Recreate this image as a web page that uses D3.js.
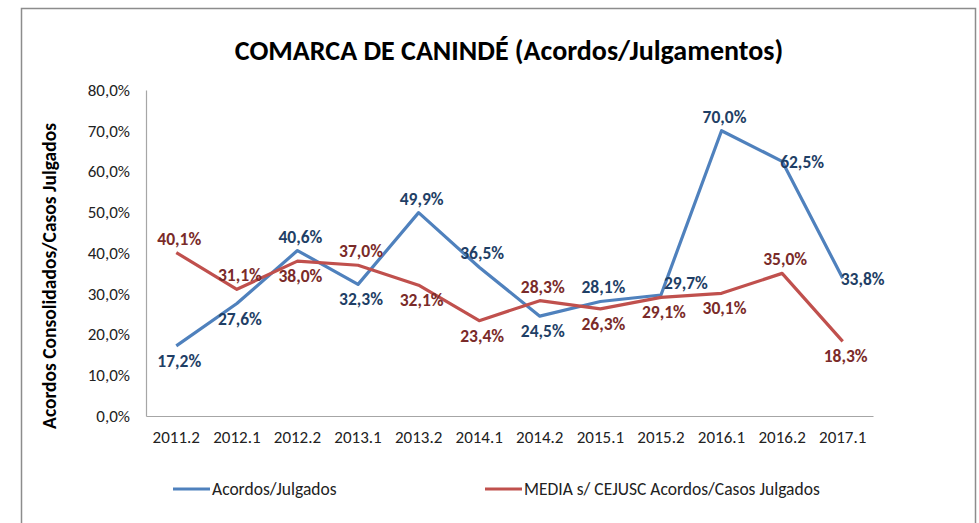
<!DOCTYPE html>
<html>
<head>
<meta charset="utf-8">
<script src="https://cdn.jsdelivr.net/npm/d3@7"></script>
<style>
  body { margin: 0; background: #fff; }
  svg { display: block; }
</style>
</head>
<body>
<svg width="979" height="523"></svg>
<script>
const periods = ['2011.2', '2012.1', '2012.2', '2013.1', '2013.2', '2014.1', '2014.2', '2015.1', '2015.2', '2016.1', '2016.2', '2017.1'];
const acordos = [17.2, 27.6, 40.6, 32.3, 49.9, 36.5, 24.5, 28.1, 29.7, 70.0, 62.5, 33.8];
const media = [40.1, 31.1, 38.0, 37.0, 32.1, 23.4, 28.3, 26.3, 29.1, 30.1, 35.0, 18.3];
const yTicks = [0, 10, 20, 30, 40, 50, 60, 70, 80];
const seriesNames = ['Acordos/Julgados', 'MEDIA s/ CEJUSC Acordos/Casos Julgados'];

// where each value label sits relative to its point
const acordosPlace = ['b', 'b', 't', 'b', 't', 't', 'b', 't', 'tr', 't', 'r', 'r'];
const mediaPlace = ['t', 't', 'b', 't', 'b', 'b', 't', 'b', 'b', 'b', 't', 'b'];

const svg = d3.select('svg');
const font = "Carlito, 'Liberation Sans Narrow', 'Arial Narrow', sans-serif";
const fmt = v => v.toFixed(1).replace('.', ',') + '%';

const margin = { top: 90, left: 146, right: 106, bottom: 107 };
const innerWidth = 979 - margin.left - margin.right;
const innerHeight = 523 - margin.top - margin.bottom;

// chart frame (bottom edge lies below the picture)
svg.append('path')
  .attr('d', 'M21.5,530V8.5H975.5V530')
  .attr('fill', 'none')
  .attr('stroke', '#8c8c8c')
  .attr('stroke-width', 1.5);

svg.append('text')
  .attr('x', 509).attr('y', 60)
  .attr('text-anchor', 'middle')
  .attr('font-family', font)
  .attr('font-weight', 'bold')
  .attr('font-size', 28)
  .attr('fill', '#000')
  .text('COMARCA DE CANINDÉ (Acordos/Julgamentos)');

const g = svg.append('g')
  .attr('transform', `translate(${margin.left},${margin.top})`);

const xScale = d3.scaleBand()
  .domain(periods)
  .range([0, innerWidth]);

const yScale = d3.scaleLinear()
  .domain([0, 80])
  .range([innerHeight, 0]);

const xPos = d => xScale(d) + xScale.bandwidth() / 2;

const yAxis = d3.axisLeft(yScale)
  .tickValues(yTicks)
  .tickSize(0)
  .tickPadding(16)
  .tickFormat(fmt);

const yAxisG = g.append('g').call(yAxis)
  .attr('font-family', font).attr('font-size', 17);
yAxisG.select('.domain').attr('stroke', '#a6a6a6').attr('stroke-width', 1.2);
yAxisG.selectAll('text').attr('fill', '#222');

const xAxis = d3.axisBottom(xScale)
  .tickSize(0)
  .tickPadding(15);

const xAxisG = g.append('g')
  .attr('transform', `translate(0,${innerHeight})`)
  .call(xAxis)
  .attr('font-family', font).attr('font-size', 17);
xAxisG.select('.domain').attr('stroke', '#a6a6a6').attr('stroke-width', 1.2);
xAxisG.selectAll('text').attr('fill', '#222');

svg.append('text')
  .attr('transform', `translate(56,${276}) rotate(-90)`)
  .attr('text-anchor', 'middle')
  .attr('font-family', font)
  .attr('font-weight', 'bold')
  .attr('font-size', 19.5)
  .attr('fill', '#000')
  .text('Acordos Consolidados/Casos  Julgados');

const series = [
  { name: seriesNames[0], values: acordos, place: acordosPlace, color: '#4f81bd', labelColor: '#1f3f66' },
  { name: seriesNames[1], values: media, place: mediaPlace, color: '#c0504d', labelColor: '#7a2b29' }
];

const line = d3.line()
  .x((d, i) => xPos(periods[i]))
  .y(d => yScale(d));

series.forEach(s => {
  g.append('path')
    .datum(s.values)
    .attr('fill', 'none')
    .attr('stroke', s.color)
    .attr('stroke-width', 3.2)
    .attr('stroke-linejoin', 'round')
    .attr('d', line);
});

series.forEach(s => {
  g.selectAll(null)
    .data(s.values)
    .join('text')
    .attr('font-family', font)
    .attr('font-weight', 'bold')
    .attr('font-size', 17.5)
    .attr('fill', s.labelColor)
    .attr('text-anchor', (d, i) => s.place[i].includes('r') ? 'start' : 'middle')
    .attr('x', (d, i) => {
      const x = xPos(periods[i]);
      if (s.place[i] === 'tr') return x + 3;
      if (s.place[i] === 'r') return x - 2;
      return x + 3;
    })
    .attr('y', (d, i) => {
      const y = yScale(d);
      const p = s.place[i];
      if (p === 't') return y - 8;
      if (p === 'b') return y + 21;
      if (p === 'tr') return y - 6;
      return y + 7;
    })
    .text(fmt);
});

// legend
const legend = svg.append('g');
const legendX = [173, 485];
series.forEach((s, i) => {
  legend.append('line')
    .attr('x1', legendX[i]).attr('x2', legendX[i] + 37)
    .attr('y1', 489).attr('y2', 489)
    .attr('stroke', s.color)
    .attr('stroke-width', 3.2);
  legend.append('text')
    .attr('x', legendX[i] + 39).attr('y', 495)
    .attr('font-family', font)
    .attr('font-size', 17.5)
    .attr('fill', '#222')
    .text(s.name);
});
</script>
</body>
</html>
